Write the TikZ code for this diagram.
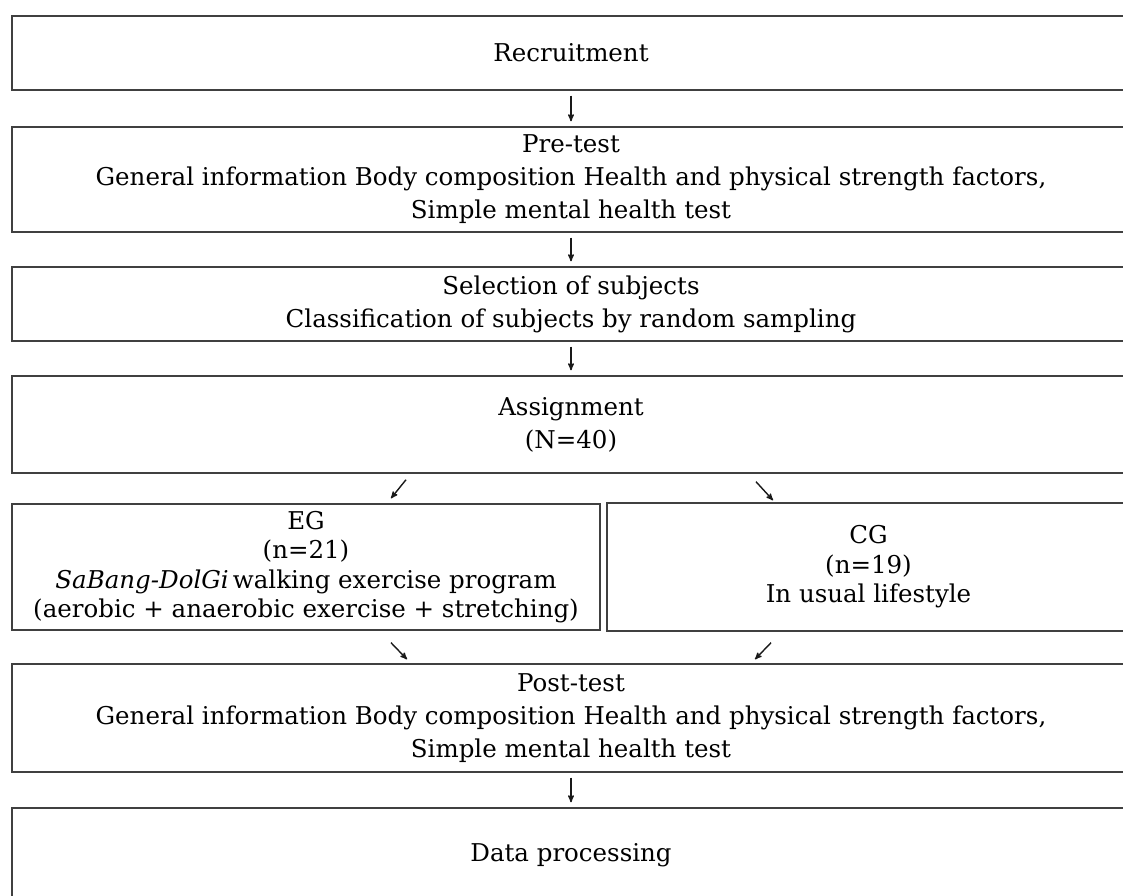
\documentclass[tikz,border=0pt]{standalone}
\usepackage{fontspec}
\setmainfont{DejaVu Serif}
\usetikzlibrary{arrows}

\begin{document}
\begin{tikzpicture}
[
	              x = 1pt,
	              y = -1pt,
	           ->, >= stealth',
	   stage/.style = { draw=black!75, line width=1.4pt, align=center, inner sep=0pt,
	                    minimum width=1118pt, font=\fontsize{24.5}{33}\selectfont },
	   group/.style = { stage, font=\fontsize{24.5}{29.5}\selectfont },
	    link/.style = { black!90, line width=1.4pt, shorten <=5pt, shorten >=5pt }
]
	\clip (0,0) rectangle (1123,895);

	% nodes
	\node  (rec) at (571,53)    [stage, minimum height=74pt]  {Recruitment};
	\node  (pre) at (571,179.5) [stage, minimum height=105pt] {Pre-test\\General information Body composition Health and physical strength factors,\\Simple mental health test};
	\node  (sel) at (571,304)   [stage, minimum height=74pt]  {Selection of subjects\\Classification of subjects by random sampling};
	\node  (asg) at (571,424.5) [stage, minimum height=97pt]  {Assignment\\(N=40)};
	\node   (eg) at (306,567)   [group, minimum width=588pt, minimum height=126pt] {EG\\(n=21)\\\textit{SaBang-DolGi}\,walking exercise program\\(aerobic + anaerobic exercise + stretching)};
	\node   (cg) at (868.5,567) [group, minimum width=523pt, minimum height=128pt] {CG\\(n=19)\\In usual lifestyle};
	\node (post) at (571,718)   [stage, minimum height=108pt] {Post-test\\General information Body composition Health and physical strength factors,\\Simple mental health test};
	\node  (dat) at (571,855)   [stage, minimum height=94pt]  {Data processing};

	% edges
	\draw [link] (rec) -- (pre);
	\draw [link] (pre) -- (sel);
	\draw [link] (sel) -- (asg);
	\draw [link] (post) -- (dat);
	\draw [link, shorten <=0pt, shorten >=0pt] ([xshift=-165pt,yshift=-6pt]asg.south) -- ([xshift=85pt,yshift=5pt]eg.north);
	\draw [link, shorten <=0pt, shorten >=0pt] ([xshift=185pt,yshift=-8pt]asg.south) -- ([xshift=-95.5pt,yshift=2pt]cg.north);
	\draw [link, shorten <=0pt, shorten >=0pt] ([xshift=85pt,yshift=-12pt]eg.south) -- ([xshift=-164pt,yshift=4pt]post.north);
	\draw [link, shorten <=0pt, shorten >=0pt] ([xshift=-97.5pt,yshift=-11pt]cg.south) -- ([xshift=184pt,yshift=4pt]post.north);
\end{tikzpicture}
\end{document}
